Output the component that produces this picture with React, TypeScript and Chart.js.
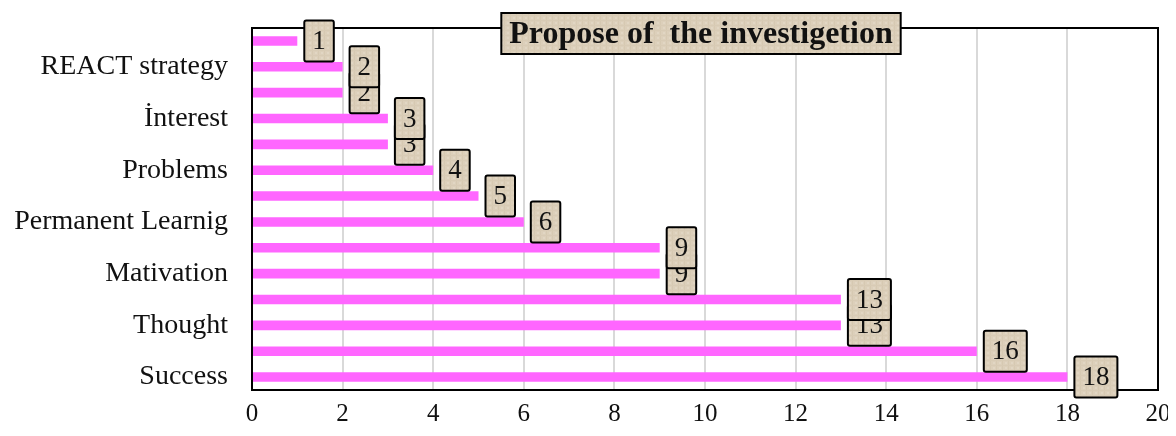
import React, { useEffect, useRef } from "react";
import { Chart, registerables } from "chart.js";

Chart.register(...registerables);

const categories: string[] = [
  "", "REACT strategy", "", "İnterest", "", "Problems", "", "Permanent Learnig",
  "", "Mativation", "", "Thought", "", "Success",
];
const values: number[] = [1, 2, 2, 3, 3, 4, 5, 6, 9, 9, 13, 13, 16, 18];
const xTicks: number[] = [0, 2, 4, 6, 8, 10, 12, 14, 16, 18, 20];
const titleText = "Propose of  the investigetion";

const FONT = "'Liberation Serif', 'Times New Roman', serif";
const BOX_FILL = "#dccfba";

function makeFill(ctx: CanvasRenderingContext2D): CanvasPattern | string {
  const p = document.createElement("canvas");
  p.width = 6;
  p.height = 5;
  const g = p.getContext("2d");
  if (!g) return BOX_FILL;
  g.fillStyle = BOX_FILL;
  g.fillRect(0, 0, 6, 5);
  g.fillStyle = "#d6c9b2";
  g.fillRect(0, 0, 1, 5);
  g.fillStyle = "#d8cbb5";
  g.fillRect(0, 0, 6, 1);
  g.fillStyle = "#e1d6c3";
  g.fillRect(3, 2, 2, 2);
  return ctx.createPattern(p, "repeat") || BOX_FILL;
}

const framePlugin = {
  id: "frame",
  beforeDatasetsDraw(chart: any) {
    const { ctx, chartArea: a } = chart;
    ctx.save();
    ctx.strokeStyle = "#000";
    ctx.lineWidth = 2;
    ctx.strokeRect(a.left, a.top, a.right - a.left, a.bottom - a.top);
    ctx.restore();
  },
};

function roundBox(ctx: CanvasRenderingContext2D, x: number, y: number, w: number, h: number, r: number) {
  ctx.beginPath();
  ctx.moveTo(x + r, y);
  ctx.lineTo(x + w - r, y);
  ctx.quadraticCurveTo(x + w, y, x + w, y + r);
  ctx.lineTo(x + w, y + h - r);
  ctx.quadraticCurveTo(x + w, y + h, x + w - r, y + h);
  ctx.lineTo(x + r, y + h);
  ctx.quadraticCurveTo(x, y + h, x, y + h - r);
  ctx.lineTo(x, y + r);
  ctx.quadraticCurveTo(x, y, x + r, y);
  ctx.closePath();
}

const labelPlugin = {
  id: "boxLabels",
  afterDatasetsDraw(chart: any) {
    const { ctx } = chart;
    const meta = chart.getDatasetMeta(0);
    const data = chart.data.datasets[0].data as number[];
    const fill = makeFill(ctx);
    ctx.save();
    ctx.font = `27px ${FONT}`;
    ctx.textAlign = "center";
    ctx.textBaseline = "middle";
    for (let i = meta.data.length - 1; i >= 0; i--) {
      const bar = meta.data[i];
      const txt = String(data[i]);
      const tw = ctx.measureText(txt).width;
      const w = tw + 16;
      const h = 41;
      const x = bar.x + 7;
      const y = bar.y - h / 2;
      roundBox(ctx, x, y, w, h, 2);
      ctx.fillStyle = fill;
      ctx.fill();
      ctx.lineWidth = 2;
      ctx.strokeStyle = "#000";
      ctx.stroke();
      ctx.fillStyle = "#111";
      ctx.fillText(txt, x + w / 2, bar.y + 1);
    }
    ctx.restore();
  },
};

const titlePlugin = {
  id: "boxTitle",
  afterDraw(chart: any) {
    const { ctx } = chart;
    const fill = makeFill(ctx);
    ctx.save();
    ctx.font = `bold 32px ${FONT}`;
    const tw = ctx.measureText(titleText).width;
    const w = tw + 16;
    const h = 41;
    const cx = 701;
    const x = cx - w / 2;
    const y = 13;
    ctx.fillStyle = fill;
    ctx.fillRect(x, y, w, h);
    ctx.lineWidth = 2;
    ctx.strokeStyle = "#000";
    ctx.strokeRect(x, y, w, h);
    ctx.fillStyle = "#111";
    ctx.textAlign = "center";
    ctx.textBaseline = "middle";
    ctx.fillText(titleText, cx, y + h / 2 + 1);
    ctx.restore();
  },
};

export default function App() {
  const ref = useRef<HTMLCanvasElement | null>(null);
  useEffect(() => {
    if (!ref.current) return;
    const chart = new Chart(ref.current, {
      type: "bar",
      data: {
        labels: categories,
        datasets: [
          {
            data: values,
            backgroundColor: "#ff66ff",
            borderWidth: 0,
            categoryPercentage: 1,
            barPercentage: 0.37,
          },
        ],
      },
      options: {
        indexAxis: "y",
        animation: false,
        responsive: false,
        maintainAspectRatio: false,
        layout: { padding: { top: 28, right: 18, left: 0, bottom: 0 } },
        plugins: { legend: { display: false }, tooltip: { enabled: false }, title: { display: false } },
        scales: {
          x: {
            min: 0,
            max: 20,
            afterBuildTicks: (scale: any) => {
              scale.ticks = xTicks.map((v) => ({ value: v }));
            },
            afterFit: (scale: any) => {
              scale.height = 38;
              scale.paddingLeft = 0;
              scale.paddingRight = 0;
            },
            grid: { color: "#d9d9d9", lineWidth: 2, drawTicks: false },
            border: { display: false },
            ticks: { color: "#111", font: { family: FONT, size: 25 }, padding: 9 },
          },
          y: {
            afterFit: (scale: any) => {
              scale.width = 252;
              scale.paddingTop = 0;
              scale.paddingBottom = 0;
            },
            grid: { display: false, drawTicks: false },
            border: { display: false },
            ticks: { autoSkip: false, color: "#111", font: { family: FONT, size: 28 }, padding: 24 },
          },
        },
      },
      plugins: [framePlugin, labelPlugin, titlePlugin],
    });
    return () => chart.destroy();
  }, []);
  return (
    <div style={{ marginLeft: -8, marginTop: -8, width: 1176, height: 428, position: "relative" }}>
      <canvas ref={ref} width={1176} height={428} style={{ display: "block", width: 1176, height: 428 }} />
    </div>
  );
}
